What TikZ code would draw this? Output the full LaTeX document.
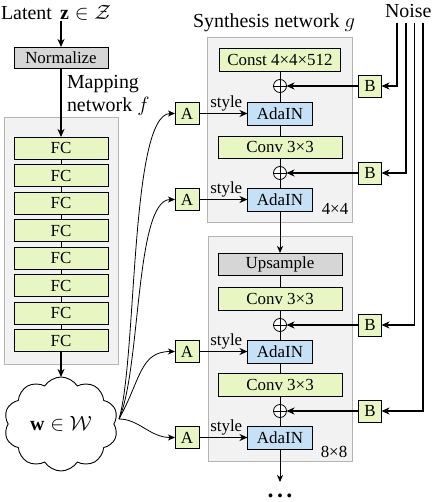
\documentclass[tikz,border=0pt]{standalone}
\usepackage{fontspec}
\setmainfont{Liberation Serif}
\usetikzlibrary{arrows.meta,shapes.symbols,calc}
\definecolor{fcgreen}{RGB}{232,246,196}
\definecolor{adablue}{RGB}{198,224,246}
\definecolor{boxgray}{RGB}{214,214,214}
\definecolor{panelfill}{RGB}{242,242,242}
\definecolor{paneledge}{RGB}{180,180,180}
\begin{document}
\begin{tikzpicture}[x=1bp,y=-1bp,
  every node/.style={inner sep=0pt, outer sep=0pt},
  box/.style={draw=black, line width=0.9bp, minimum height=22bp, font=\fontsize{17}{20}\selectfont},
  greenbox/.style={box, fill=fcgreen},
  graybox/.style={box, fill=boxgray},
  adabox/.style={box, fill=adablue, minimum width=65bp, minimum height=23bp},
  smallbox/.style={greenbox, minimum width=23bp, minimum height=23bp},
  panel/.style={fill=panelfill, draw=paneledge, line width=1bp},
  title/.style={font=\fontsize{20}{23}\selectfont},
  lbl/.style={font=\fontsize{17}{20}\selectfont},
  thinline/.style={line width=0.8bp},
  bigarrow/.style={line width=1.4bp, -{Stealth[length=8bp,width=7bp,inset=2.5bp]}},
  smallarrow/.style={line width=0.8bp, -{Stealth[length=7bp,width=6bp,inset=2bp]}},
  plus/.style={circle, draw, fill=white, minimum size=13bp, line width=0.8bp,
    path picture={\draw[line width=0.8bp] (path picture bounding box.north) -- (path picture bounding box.south)
      (path picture bounding box.west) -- (path picture bounding box.east);}},
]
\useasboundingbox (0,0) rectangle (434,502);
% panels
\draw[panel] (4,118) rectangle (118,364);
\draw[panel] (207,38) rectangle (352,222);
\draw[panel] (208,236) rectangle (352,461);

% mapping network
\node[title, anchor=base west] (latent) at (1,20) {Latent\, $\mathbf{z}\in\mathcal{Z}$};
\node[graybox, minimum width=94bp, minimum height=21bp] (norm) at (61,57.5) {Normalize};
\node[title, anchor=base west] (map1) at (67,89) {Mapping};
\node[title, anchor=base west] (map2) at (67,112) {network $f$};
\foreach \i/\y in {1/148,2/175.5,3/203,4/230.5,5/258,6/285.5,7/313,8/340.5}
  \node[greenbox, minimum width=94bp] (fc\i) at (61,\y) {FC};
\foreach \i/\j in {1/2,2/3,3/4,4/5,5/6,6/7,7/8}
  \draw[thinline] (fc\i) -- (fc\j);
\node[cloud, draw, fill=white, cloud puffs=10, cloud puff arc=115, aspect=1.2,
  minimum width=114bp, minimum height=94bp, line width=0.9bp, title] (cloud) at (61,424) {$\mathbf{w}\in\mathcal{W}$};
\draw[bigarrow] (norm.north |- latent.south) -- (norm.north);
\draw[bigarrow] (norm.south) -- (fc1.north);
\draw[bigarrow] (fc8.south) -- (cloud.north);

% synthesis network
\node[title, anchor=base west] (syn) at (193,28) {Synthesis network $g$};
\node[greenbox, minimum width=121bp, minimum height=23bp] (const) at (280,59.5) {Const 4×4×512};
\node[plus] (p1) at (280,86) {};
\node[adabox] (ada1) at (280,113.5) {AdaIN};
\node[greenbox, minimum width=124bp] (conv1) at (280,147) {Conv 3×3};
\node[plus] (p2) at (280,173) {};
\node[adabox] (ada2) at (280,199.5) {AdaIN};
\node[lbl] (res1) at (335,209) {4×4};
\node[graybox, minimum width=124bp] (up) at (280,264) {Upsample};
\node[greenbox, minimum width=124bp, minimum height=23bp] (conv2) at (280,298.5) {Conv 3×3};
\node[plus] (p3) at (280,325) {};
\node[adabox] (ada3) at (280,351.5) {AdaIN};
\node[greenbox, minimum width=124bp, minimum height=23bp] (conv3) at (280,384.5) {Conv 3×3};
\node[plus] (p4) at (280,411) {};
\node[adabox] (ada4) at (280,437.5) {AdaIN};
\node[lbl] (res2) at (334,452) {8×8};
\coordinate (down) at (280,482);
\node[anchor=base] (dots) at (280,497) {\fontsize{24}{24}\selectfont\bfseries .\kern3.5bp.\kern3.5bp.};

\draw[thinline] (const) -- (p1) -- (ada1) -- (conv1) -- (p2) -- (ada2);
\draw[smallarrow] (ada2) -- (up);
\draw[thinline] (up) -- (conv2) -- (p3) -- (ada3) -- (conv3) -- (p4) -- (ada4);
\draw[smallarrow] (ada4) -- (down);

% A and B
\foreach \i/\y in {1/113.5,2/199.5,3/351.5,4/437.5} {
  \node[smallbox, minimum width=24bp, minimum height=22bp] (A\i) at (187,\y) {A};
  \draw[bigarrow] (A\i.east) -- (ada\i.west) node[midway, above=2.5bp, xshift=3bp, lbl] {style};
}
\foreach \i/\y in {1/86,2/173,3/325,4/411} {
  \node[smallbox, minimum height=22bp] (B\i) at (370,\y) {B};
  \draw[bigarrow] (B\i.west) -- (p\i.east);
}

% noise
\node[title, anchor=base west] (noise) at (385,18) {Noise};
\coordinate (n1) at (397,23);
\coordinate (n2) at (406,23);
\coordinate (n3) at (414.5,23);
\coordinate (n4) at (423,23);
\foreach \i in {1,2,3,4}
  \draw[bigarrow] (n\i) |- (B\i.east);

% cloud to A
\coordinate (ce) at (119,419);
\draw[smallarrow] (ce) .. controls +(18,-60) and +(-45,0) .. (A1.west);
\draw[smallarrow] (ce) .. controls +(22,-50) and +(-40,0) .. (A2.west);
\draw[smallarrow] (ce) .. controls +(22,-40) and +(-35,0) .. (A3.west);
\draw[smallarrow] (ce) .. controls +(20,0) and +(-25,0) .. (A4.west);
\end{tikzpicture}
\end{document}
